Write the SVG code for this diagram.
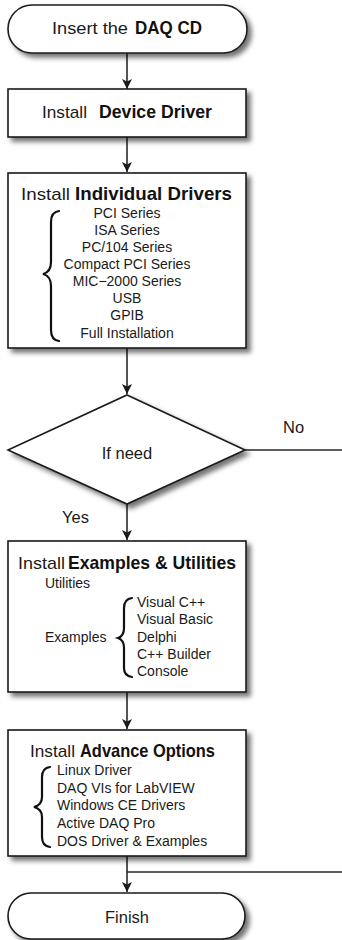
<svg xmlns="http://www.w3.org/2000/svg" width="342" height="940" viewBox="0 0 342 940">
<defs>
<filter id="sh" x="-10%" y="-10%" width="130%" height="140%">
<feDropShadow dx="4" dy="4" stdDeviation="2.5" flood-color="#000" flood-opacity="0.55"/>
</filter>
<marker id="ah" viewBox="0 0 10 10" refX="10" refY="5" markerWidth="10" markerHeight="10" markerUnits="userSpaceOnUse" orient="auto">
<path d="M0,0 L10,5 L0,10 L2.5,5 Z" fill="#1a1a1a"/>
</marker>
<style>
.shape{fill:#fff;stroke:#1a1a1a;stroke-width:1.6;filter:url(#sh)}
.conn{fill:none;stroke:#2a2a2a;stroke-width:1.6}
.reg{font-family:"Liberation Sans",Arial,sans-serif;font-size:17px;fill:#1a1a1a}
.bold{font-family:"Liberation Sans",Arial,sans-serif;font-size:19px;font-weight:bold;fill:#111}
.item{font-family:"Liberation Sans",Arial,sans-serif;font-size:14px;fill:#1a1a1a}
.lbl{font-family:"Liberation Sans",Arial,sans-serif;font-size:16.5px;fill:#1a1a1a}
.brace{fill:none;stroke:#111;stroke-width:2.2;stroke-linecap:round}
</style>
</defs>

<g id="connectors">
<path class="conn" d="M127,53 V89" marker-end="url(#ah)"/>
<path class="conn" d="M127,137 V172" marker-end="url(#ah)"/>
<path class="conn" d="M127,348 V394" marker-end="url(#ah)"/>
<path class="conn" d="M127,504 V540" marker-end="url(#ah)"/>
<path class="conn" d="M127,692 V729" marker-end="url(#ah)"/>
<path class="conn" d="M127,856 V892" marker-end="url(#ah)"/>
<path class="conn" d="M245,450 H352 V872 H127"/>
<text class="lbl" x="283" y="433">No</text>
<text class="lbl" x="62" y="523">Yes</text>
</g>

<g id="start">
<rect class="shape" x="8" y="5" width="239" height="48" rx="24" ry="24"/>
<text class="reg" x="52" y="34" textLength="76" lengthAdjust="spacingAndGlyphs">Insert the</text>
<text class="bold" x="135" y="34" textLength="67" lengthAdjust="spacingAndGlyphs">DAQ CD</text>
</g>

<g id="device-driver">
<rect class="shape" x="8" y="89" width="238" height="48"/>
<text class="reg" x="42" y="118" textLength="45" lengthAdjust="spacingAndGlyphs">Install</text>
<text class="bold" x="99" y="118" textLength="113" lengthAdjust="spacingAndGlyphs">Device Driver</text>
</g>

<g id="individual-drivers">
<rect class="shape" x="8" y="173" width="238" height="175"/>
<text class="reg" x="21" y="200" textLength="49" lengthAdjust="spacingAndGlyphs">Install</text>
<text class="bold" x="75" y="200" textLength="157" lengthAdjust="spacingAndGlyphs">Individual Drivers</text>
<path class="brace" d="M59,211 Q51,212 51,222 V262 Q51,272 43,274 Q51,276 51,286 V330 Q51,340 59,341"/>
<g class="item" text-anchor="middle">
<text x="127" y="218">PCI Series</text>
<text x="127" y="235">ISA Series</text>
<text x="127" y="252">PC/104 Series</text>
<text x="127" y="269">Compact PCI Series</text>
<text x="127" y="286">MIC−2000 Series</text>
<text x="127" y="303">USB</text>
<text x="127" y="320">GPIB</text>
<text x="127" y="338">Full Installation</text>
</g>
</g>

<g id="if-need">
<polygon class="shape" points="127,395 245,450 127,504 8,450"/>
<text class="lbl" x="127" y="459" text-anchor="middle" font-size="17">If need</text>
</g>

<g id="examples-utilities">
<rect class="shape" x="8" y="541" width="238" height="151"/>
<text class="reg" x="18" y="569" textLength="47" lengthAdjust="spacingAndGlyphs">Install</text>
<text class="bold" x="68" y="569" textLength="168" lengthAdjust="spacingAndGlyphs">Examples &amp; Utilities</text>
<text class="item" x="45" y="588">Utilities</text>
<text class="item" x="45" y="642">Examples</text>
<path class="brace" d="M132,598 Q124,599 124,608 V628 Q124,636 118,638 Q124,640 124,648 V668 Q124,676 132,677"/>
<g class="item">
<text x="137" y="607">Visual C++</text>
<text x="137" y="624">Visual Basic</text>
<text x="137" y="642">Delphi</text>
<text x="137" y="659">C++ Builder</text>
<text x="137" y="676">Console</text>
</g>
</g>

<g id="advance-options">
<rect class="shape" x="8" y="730" width="238" height="126"/>
<text class="reg" x="30" y="757" textLength="45" lengthAdjust="spacingAndGlyphs">Install</text>
<text class="bold" x="80" y="757" textLength="135" lengthAdjust="spacingAndGlyphs">Advance Options</text>
<path class="brace" d="M50,767 Q42,768 42,777 V797 Q42,805 34,807 Q42,809 42,817 V837 Q42,846 50,847"/>
<g class="item">
<text x="57" y="775">Linux Driver</text>
<text x="57" y="793">DAQ VIs for LabVIEW</text>
<text x="57" y="810">Windows CE Drivers</text>
<text x="57" y="828">Active DAQ Pro</text>
<text x="57" y="846">DOS Driver &amp; Examples</text>
</g>
</g>

<g id="finish">
<rect class="shape" x="8" y="893" width="237" height="46" rx="23" ry="23"/>
<text class="lbl" x="127" y="923" text-anchor="middle" font-size="17">Finish</text>
</g>
</svg>
